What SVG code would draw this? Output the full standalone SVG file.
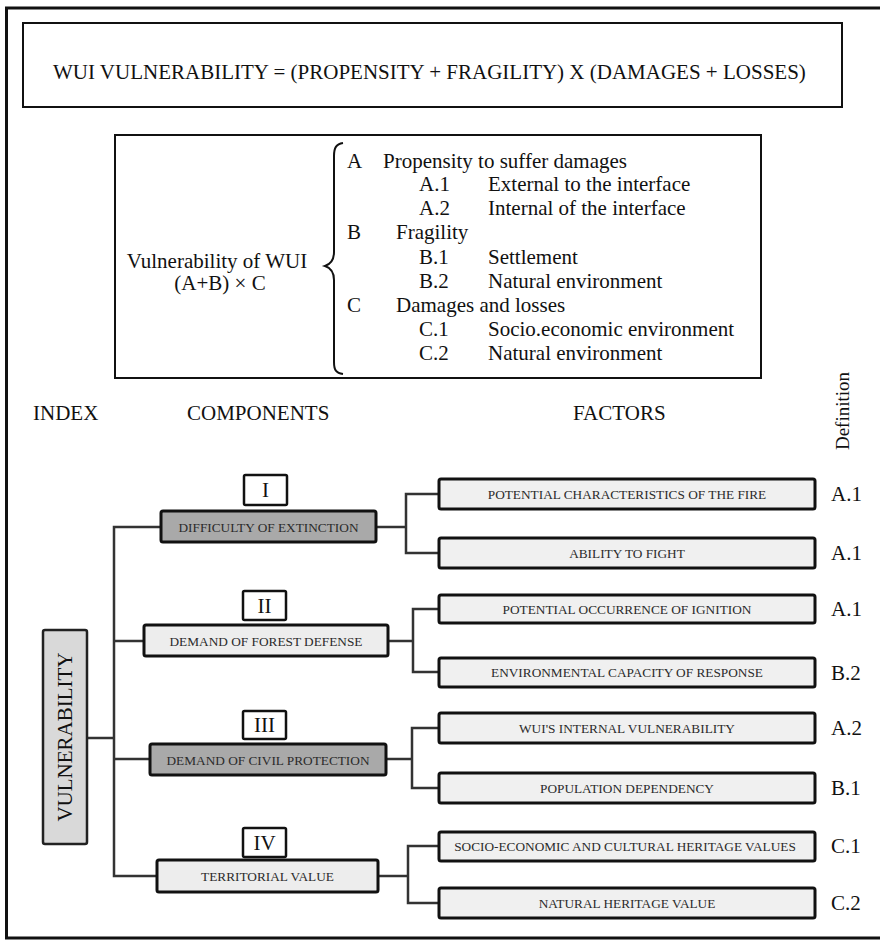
<svg xmlns="http://www.w3.org/2000/svg" width="880" height="940" viewBox="0 0 880 940">
<style>
.t{font-family:"Liberation Serif","Times New Roman",serif;fill:#111}
.big{font-size:21px}
.sm{font-size:13.3px;fill:#2b2b2b}
.mid{text-anchor:middle}
.frame{fill:none;stroke:#111;stroke-width:3}
.panel{fill:#fff;stroke:#111;stroke-width:2}
.num{fill:#fff;stroke:#111;stroke-width:2.5}
.comp{stroke:#111;stroke-width:3}
.dark{fill:#a9a9a9}
.light{fill:#ededed}
.fac{fill:#f0f0f0;stroke:#111;stroke-width:3}
.vul{fill:#d9d9d9;stroke:#222;stroke-width:2.5}
.conn{fill:none;stroke:#333;stroke-width:2.5}
</style>
<rect width="880" height="940" fill="#fff"/>
<path class="frame" d="M884,8 H6.5 V938 H884"/>

<g id="title">
<rect class="panel" x="23" y="23" width="819" height="84"/>
<text class="t big" x="53" y="79">WUI VULNERABILITY = (PROPENSITY + FRAGILITY) X (DAMAGES + LOSSES)</text>
</g>

<g id="definitions">
<rect class="panel" x="115" y="135" width="646" height="243"/>
<text class="t big mid" x="217" y="268">Vulnerability of WUI</text>
<text class="t big mid" x="220" y="290">(A+B) × C</text>
<path d="M343,143 C336,144 334,148 334,156 L334,252 C334,260 331,264 325,266 C331,268 334,272 334,280 L334,362 C334,370 336,373 343,374" fill="none" stroke="#111" stroke-width="2"/>
<text class="t big" x="347" y="168">A</text>
<text class="t big" x="383" y="168">Propensity to suffer damages</text>
<text class="t big" x="419" y="191">A.1</text>
<text class="t big" x="488" y="191">External to the interface</text>
<text class="t big" x="419" y="215">A.2</text>
<text class="t big" x="488" y="215">Internal of the interface</text>
<text class="t big" x="347" y="239">B</text>
<text class="t big" x="396" y="239">Fragility</text>
<text class="t big" x="419" y="264">B.1</text>
<text class="t big" x="488" y="264">Settlement</text>
<text class="t big" x="419" y="288">B.2</text>
<text class="t big" x="488" y="288">Natural environment</text>
<text class="t big" x="347" y="312">C</text>
<text class="t big" x="396" y="312">Damages and losses</text>
<text class="t big" x="419" y="336">C.1</text>
<text class="t big" x="488" y="336">Socio.economic environment</text>
<text class="t big" x="419" y="360">C.2</text>
<text class="t big" x="488" y="360">Natural environment</text>
</g>

<g id="headers">
<text class="t big" x="33" y="420">INDEX</text>
<text class="t big" x="187" y="420">COMPONENTS</text>
<text class="t big" x="573" y="420">FACTORS</text>
<text class="t mid" font-size="19" transform="translate(849,411) rotate(-90)">Definition</text>
</g>

<g id="connectors">
<path class="conn" d="M87,738 H114"/>
<path class="conn" d="M161,527 H114 V876 H157"/>
<path class="conn" d="M114,641 H144"/>
<path class="conn" d="M114,759 H150"/>
<path class="conn" d="M376,527 H406"/>
<path class="conn" d="M439,494 H406 V553 H439"/>
<path class="conn" d="M388,641 H413"/>
<path class="conn" d="M439,609 H413 V672 H439"/>
<path class="conn" d="M386,759 H412"/>
<path class="conn" d="M439,728 H412 V788 H439"/>
<path class="conn" d="M378,876 H408"/>
<path class="conn" d="M439,846 H408 V903 H439"/>
</g>

<g id="vulnerability">
<rect class="vul" x="43" y="630" width="44" height="214" rx="2"/>
<text class="t big mid" transform="translate(72,737) rotate(-90)">VULNERABILITY</text>
</g>

<g id="comp-I">
<rect class="num" x="244" y="475" width="43" height="30" rx="1.5"/>
<text class="t big mid" x="265.5" y="497">I</text>
<rect class="comp dark" x="161" y="511" width="215" height="31" rx="2"/>
<text class="t sm mid" x="268.5" y="531.5">DIFFICULTY OF EXTINCTION</text>
</g>
<g id="comp-II">
<rect class="num" x="243" y="591" width="43" height="29" rx="1.5"/>
<text class="t big mid" x="264.5" y="613">II</text>
<rect class="comp light" x="144" y="625" width="244" height="31" rx="2"/>
<text class="t sm mid" x="266" y="645.5">DEMAND OF FOREST DEFENSE</text>
</g>
<g id="comp-III">
<rect class="num" x="243" y="711" width="43" height="28" rx="1.5"/>
<text class="t big mid" x="264.5" y="732">III</text>
<rect class="comp dark" x="150" y="744" width="236" height="31" rx="2"/>
<text class="t sm mid" x="268" y="764.5">DEMAND OF CIVIL PROTECTION</text>
</g>
<g id="comp-IV">
<rect class="num" x="243" y="828" width="43" height="29" rx="1.5"/>
<text class="t big mid" x="264.5" y="850">IV</text>
<rect class="comp light" x="157" y="860" width="221" height="32" rx="2"/>
<text class="t sm mid" x="267.5" y="880.5">TERRITORIAL VALUE</text>
</g>

<g id="factor-1">
<rect class="fac" x="439" y="479" width="376" height="30" rx="2"/>
<text class="t sm mid" x="627" y="498.5">POTENTIAL CHARACTERISTICS OF THE FIRE</text>
<text class="t big" x="831" y="501">A.1</text>
</g>
<g id="factor-2">
<rect class="fac" x="439" y="538" width="376" height="30" rx="2"/>
<text class="t sm mid" x="627" y="557.5">ABILITY TO FIGHT</text>
<text class="t big" x="831" y="560">A.1</text>
</g>
<g id="factor-3">
<rect class="fac" x="439" y="595" width="376" height="28" rx="2"/>
<text class="t sm mid" x="627" y="613.5">POTENTIAL OCCURRENCE OF IGNITION</text>
<text class="t big" x="831" y="616">A.1</text>
</g>
<g id="factor-4">
<rect class="fac" x="439" y="658" width="376" height="29" rx="2"/>
<text class="t sm mid" x="627" y="677">ENVIRONMENTAL CAPACITY OF RESPONSE</text>
<text class="t big" x="831" y="680">B.2</text>
</g>
<g id="factor-5">
<rect class="fac" x="439" y="713" width="376" height="30" rx="2"/>
<text class="t sm mid" x="627" y="732.5">WUI'S INTERNAL VULNERABILITY</text>
<text class="t big" x="831" y="735">A.2</text>
</g>
<g id="factor-6">
<rect class="fac" x="439" y="773" width="376" height="30" rx="2"/>
<text class="t sm mid" x="627" y="792.5">POPULATION DEPENDENCY</text>
<text class="t big" x="831" y="795">B.1</text>
</g>
<g id="factor-7">
<rect class="fac" x="439" y="832" width="376" height="29" rx="2"/>
<text class="t sm mid" x="625" y="851">SOCIO-ECONOMIC AND CULTURAL HERITAGE VALUES</text>
<text class="t big" x="831" y="853">C.1</text>
</g>
<g id="factor-8">
<rect class="fac" x="439" y="888" width="376" height="30" rx="2"/>
<text class="t sm mid" x="627" y="907.5">NATURAL HERITAGE VALUE</text>
<text class="t big" x="831" y="910">C.2</text>
</g>
</svg>
